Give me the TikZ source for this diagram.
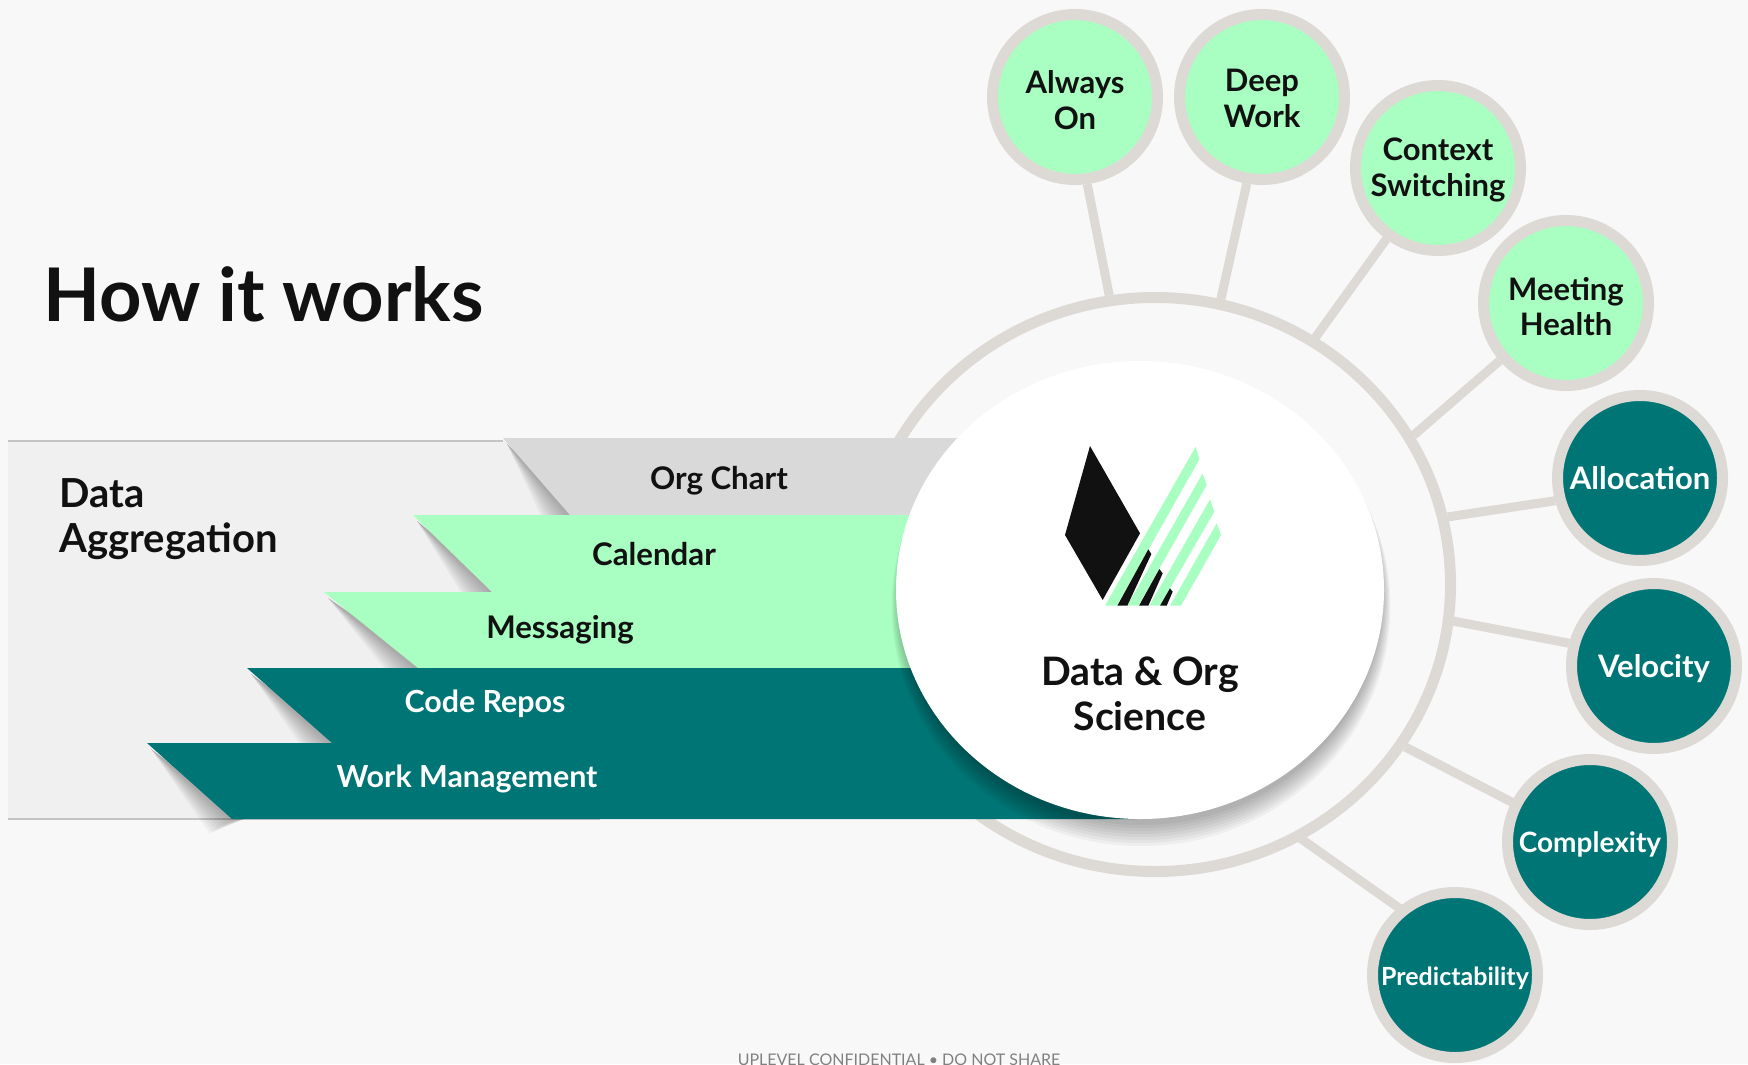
\documentclass[tikz,border=0pt]{standalone}
\usepackage{fontspec}
\setmainfont{Lato}
\usepackage{tikz}
\usetikzlibrary{positioning,calc,shapes.geometric}

\definecolor{pagegray}{HTML}{F8F8F8}
\definecolor{panelgray}{HTML}{F0F0F0}
\definecolor{panelline}{HTML}{C4C4C4}
\definecolor{chartgray}{HTML}{D9D9D9}
\definecolor{ringgray}{HTML}{DDD9D5}
\definecolor{mint}{HTML}{A9FFC1}
\definecolor{teal}{HTML}{007575}
\definecolor{ink}{HTML}{111111}

\begin{document}
\begin{tikzpicture}[x=0.5pt,y=-0.5pt]
		\tikzset{spoke/.style={ringgray,line width=4.5pt,shorten <=-1pt,shorten >=-1pt}}
		\tikzset{softnode/.style={draw=ringgray,circle,line width=5.5pt,minimum size=82.5pt,inner sep=0pt,fill=mint}}
		\tikzset{hardnode/.style={softnode,fill=teal}}
		\tikzset{softlabel/.style={align=center,text=ink,font=\fontsize{15.5}{17.8}\selectfont\bfseries}}
		\tikzset{hardlabel/.style={softlabel,text=white}}
		\tikzset{barlabel/.style={font=\fontsize{15.6}{18}\selectfont\bfseries}}
		
		\useasboundingbox (0,0) rectangle (1748,1064);
		\clip (0,0) rectangle (1748,1064);
		\fill[pagegray] (0,0) rectangle (1748,1064);
		
		\newcommand\drawBar[5] % {tip x} {foot x} {top y} {bottom y} {colour}
		{
			\foreach \w in {4,8,...,32}
				\fill[black,opacity=0.04] ($(#1,#3)+(4,6)$) -- ($(#2,#4)+(12,0)$) -- ($(#2,#4)+({-0.7*\w},{0.45*\w})$) -- cycle;
			\fill[#5] (#1,#3) -- (#2,#4) -- (1135,#4) -- (1135,#3) -- cycle;
		}
		
		\newcommand\drawMetric[6] % {style} {x} {y} {label} {name} {label shift}
		{
			\node[
			#1node,
			label={[#1label,yshift=#6]center:#4}
			] at (#2, #3) (#5) {};
		}
		
		% big ring and the metrics around it
		\node[draw=ringgray,ellipse,line width=5.5pt,minimum width=295.5pt,minimum height=287pt,inner sep=0pt] at (1155,584.5) (hub) {};
		
		\drawMetric{soft}{1075}{97}{Always\\On}{always}{-1.7pt}
		\drawMetric{soft}{1262}{97}{Deep\\Work}{deep}{-0.8pt}
		\drawMetric{soft}{1438}{168}{Context\\Switching}{context}{-1.1pt}
		\drawMetric{soft}{1566}{303}{Meeting\\Health}{meeting}{-1.7pt}
		\drawMetric{hard}{1640}{478}{Allocation}{allocation}{0pt}
		\drawMetric{hard}{1654}{666}{Velocity}{velocity}{-1.1pt}
		\drawMetric{hard}{1590}{842}{{\fontsize{14}{16}\selectfont Complexity}}{complexity}{-1.1pt}
		\drawMetric{hard}{1455}{975}{{\fontsize{12.5}{15}\selectfont Predictability}}{predictability}{-1.7pt}
		
		\draw[spoke]
		(always.278) -- (hub.99.5)
		(deep.260) -- (hub.77)
		(context.234) -- (hub.57.4)
		(meeting.221) -- (hub.30)
		(allocation.195) -- (hub.13)
		(velocity.165) -- (hub.-7)
		(complexity.153) -- (hub.-33)
		(predictability.130) -- (hub.-60);
		
		% data sources
		\fill[panelgray] (8,441) rectangle (600,819);
		\draw[panelline,line width=0.6pt] (8,441) -- (503,441) (8,819) -- (600,819);
		
		\drawBar{503}{570}{438}{515}{chartgray}
		\drawBar{413}{492}{515}{592}{mint}
		\drawBar{324}{418}{592}{668}{mint}
		\drawBar{247}{332}{668}{743}{teal}
		\drawBar{147}{232}{743}{819}{teal}
		
		\node[barlabel,text=ink] at (719,481) (orgchart) {Org Chart};
		\node[barlabel,text=ink] at (654,554) (calendar) {Calendar};
		\node[barlabel,text=ink] at (560,630) (messaging) {Messaging};
		\node[barlabel,text=white,font=\fontsize{15.2}{18}\selectfont\bfseries] at (485,704) (coderepos) {Code Repos};
		\node[barlabel,text=white,font=\fontsize{15.2}{18}\selectfont\bfseries] at (467,779) (workmgmt) {Work Management};
		
		\node[anchor=west,inner sep=0pt,align=left,text=ink,font=\fontsize{20}{22.5}\selectfont\bfseries] at (59,519) (aggregation) {Data\\Aggregation};
		\node[anchor=west,inner sep=0pt,text=ink,font=\fontsize{37}{40}\selectfont\bfseries] at (43,294) (howitworks) {How it works};
		
		% centre disc
		\foreach \d in {0,3,...,21}
			\fill[black,opacity=0.04] (1141,{596+0.5*\d}) ellipse[x radius={241+0.4*\d},y radius={229+0.5*\d}];
		\node[ellipse,fill=white,minimum width=244pt,minimum height=229pt,inner sep=0pt,outer sep=0pt] at (1140,590) (disc) {};
		
		\begin{scope}[shift={(1020,420)},scale=0.33333]
			\fill[ink] (210,78) -- (360,340) -- (248,540) -- (135,345) -- cycle;
			\fill[mint] (527,80) -- (538,118) -- (290,557) -- (255,557) -- cycle;
			\fill[mint] (548,160) -- (560,195) -- (355,557) -- (322,557) -- cycle;
			\fill[mint] (570,238) -- (583,275) -- (420,557) -- (388,557) -- cycle;
			\fill[mint] (590,310) -- (603,345) -- (483,557) -- (450,557) -- cycle;
			\fill[ink] (385,388) -- (394,402) -- (322,557) -- (292,557) -- cycle;
			\fill[ink] (418,447) -- (428,460) -- (385,557) -- (357,557) -- cycle;
			\fill[ink] (450,505) -- (458,515) -- (440,557) -- (420,557) -- cycle;
		\end{scope}
		
		\node[align=center,text=ink,font=\fontsize{19.6}{22.5}\selectfont\bfseries] at (1140,694) (disclabel) {Data \& Org\\Science};
		
		\node[text=gray,font=\fontsize{8}{10}\selectfont] at (899,1060) (footer) {UPLEVEL CONFIDENTIAL • DO NOT SHARE};
		
		\end{tikzpicture}
\end{document}
